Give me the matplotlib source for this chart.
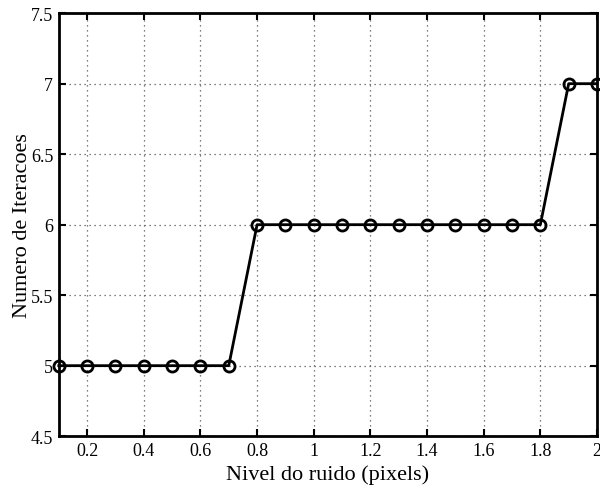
import matplotlib
matplotlib.use("Agg")
import matplotlib.pyplot as plt
import numpy as np

noise = [0.1, 0.2, 0.3, 0.4, 0.5, 0.6, 0.7, 0.8, 0.9, 1.0,
         1.1, 1.2, 1.3, 1.4, 1.5, 1.6, 1.7, 1.8, 1.9, 2.0]
iters = [5, 5, 5, 5, 5, 5, 5, 6, 6, 6,
         6, 6, 6, 6, 6, 6, 6, 6, 7, 7]
xticks = [0.2, 0.4, 0.6, 0.8, 1, 1.2, 1.4, 1.6, 1.8, 2]
xticklabels = ["0.2", "0.4", "0.6", "0.8", "1", "1.2", "1.4", "1.6", "1.8", "2"]
yticks = [4.5, 5, 5.5, 6, 6.5, 7, 7.5]
yticklabels = ["4.5", "5", "5.5", "6", "6.5", "7", "7.5"]

plt.rcParams['font.family'] = ['Liberation Serif', 'DejaVu Serif']

fig = plt.figure(figsize=(6, 4.89), dpi=100)
ax = fig.add_axes([0.098, 0.106, 0.897, 0.865])
ax.plot(noise, iters, color='black', lw=2, marker='o', markersize=8,
        markerfacecolor='none', markeredgewidth=2, clip_on=False, zorder=3)
ax.set_xlim(0.1, 2.0)
ax.set_ylim(4.5, 7.5)
ax.set_xticks(xticks)
ax.set_xticklabels(xticklabels)
ax.set_yticks(yticks)
ax.set_yticklabels(yticklabels)
ax.grid(True, linestyle=(0, (1, 3)), color='#555555', lw=0.9)
ax.tick_params(direction='in', length=5, width=1.5, top=True, right=True,
               labelsize=13, pad=4)
for s in ax.spines.values():
    s.set_linewidth(2)
ax.set_xlabel('Nivel do ruido (pixels)', fontsize=16, labelpad=4)
ax.set_ylabel('Numero de Iteracoes', fontsize=16, labelpad=-1)
fig.savefig('out.png', dpi=100)
